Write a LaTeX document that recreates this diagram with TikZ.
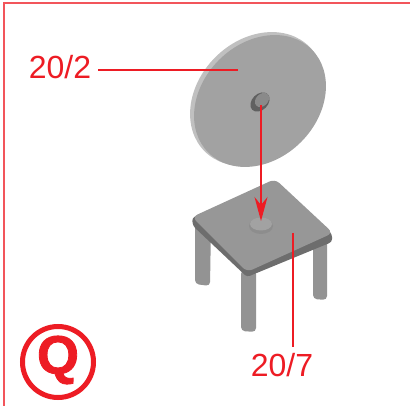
\documentclass[tikz,border=0pt]{standalone}
\usepackage{fontspec}
\setmainfont{Liberation Sans}
\newfontfamily\qfont[FakeBold=1.5]{Liberation Sans Bold}
\usepackage{xcolor}
\usetikzlibrary{arrows.meta}
\definecolor{markred}{HTML}{ED1C24}
\definecolor{partgrey}{HTML}{A2A2A2}
\definecolor{partedge}{HTML}{C0C0C0}
\definecolor{partdark}{HTML}{808080}
\begin{document}
\begin{tikzpicture}[
    x=1pt, y=-1pt,
    part/.style={fill=partgrey, draw=none},
    leg/.style={fill=partdark!85!white, draw=none, rounded corners=4pt},
    partlabel/.style={font=\fontsize{32}{32}\selectfont, text=markred, inner sep=0pt},
    leader/.style={draw=markred, line width=1.1pt},
    frame/.style={draw=markred!75!white, line width=1.2pt}
]
\useasboundingbox (0,0) rectangle (410,406);

% ------------------------------------------------------------
% Frame
% ------------------------------------------------------------

\coordinate (corner) at (4,3);
\coordinate (frameright) at (410,3);
\coordinate (framebottom) at (4,406);
\draw[frame] (frameright) -- (corner) -- (framebottom);

% ------------------------------------------------------------
% Disc
% ------------------------------------------------------------

\fill[partedge, rotate around={45:(257,99)}] (257,99) ellipse (74 and 59);
\fill[part, rotate around={45:(260,101)}] (260,101) ellipse (73 and 58);
\fill[partdark!75!black, rotate around={45:(260,102)}] (260,102) ellipse (11 and 8);
\fill[partgrey!85!black, rotate around={45:(262,100)}] (262,100) ellipse (8 and 6);

% ------------------------------------------------------------
% Stool
% ------------------------------------------------------------

\fill[leg] (195,220) -- (195,284) -- (210,286) -- (211,225) -- cycle;
\fill[leg] (313,235) -- (313,299) -- (327,300) -- (327,235) -- cycle;
\fill[leg] (241,270) -- (241,331) -- (256,332) -- (256,270) -- cycle;

\fill[partdark!85!black, rounded corners=3pt]
    (192,218) -- (193,226) -- (247,277) -- (332,242) -- (332,234) -- (275,180) -- cycle;
\fill[partgrey!93!black, rounded corners=6pt]
    (192,217) -- (275,179) -- (333,233) -- (247,272) -- cycle;
\fill[partdark!90!white] (261,226) ellipse (12 and 8);
\fill[part] (261,224) ellipse (11 and 6.5);

% ------------------------------------------------------------
% Labels
% ------------------------------------------------------------

\node[partlabel] (discno) at (60,67) {20/2};
\node[partlabel] (stoolno) at (282,365) {20/7};

\node[inner sep=0pt, minimum size=71pt, circle, draw=markred, line width=5pt] (qmark) at (58,362) {};
\node[inner sep=0pt, font=\fontsize{54}{54}\qfont, text=markred] (qletter) at (58,360) {Q};

% ------------------------------------------------------------
% Leaders
% ------------------------------------------------------------

\coordinate (discpt) at (238,70);
\coordinate (stoolpt) at (293,233);
\coordinate (holept) at (261,105);
\coordinate (pegpt) at (261,221);

\draw[leader] (discno.east |- discpt) ++(7,0) coordinate (discstart) -- (discpt);
\draw[leader, shorten >=6pt] (stoolpt) -- (stoolpt |- stoolno.north);
\draw[leader, -{Stealth[length=24pt, width=13pt, inset=8pt]}] (holept) -- (pegpt);

\end{tikzpicture}
\end{document}
